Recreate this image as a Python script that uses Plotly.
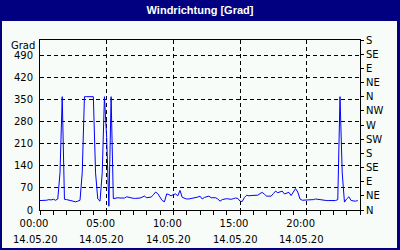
import plotly.graph_objects as go
import pandas as pd

# ---------------- data ----------------
start_time = "2020-05-14 00:00"
step = "10min"
direction_deg = [
    30, 30, 31, 31, 33, 32, 34, 31, 35,
    118, 360, 34, 33, 31, 30, 27, 26, 28, 31,
    118, 360, 360, 360, 360, 360, 118, 35, 28, 118, 360, 230, 12, 360,
    36, 38, 39, 38, 39, 38, 42, 40, 37, 37,
    37, 37, 38, 41, 44, 39, 39, 41, 48, 57,
    52, 42, 30, 26, 51, 49, 45, 49, 51, 45,
    62, 40, 37, 35, 35, 36, 37, 39, 41, 44,
    35, 40, 42, 44, 39, 38, 39, 35, 28, 33,
    35, 36, 35, 34, 36, 38, 37, 28, 27, 40,
    47, 45, 46, 47, 47, 47, 52, 56, 50, 44,
    44, 44, 52, 60, 55, 58, 60, 51, 54, 56,
    46, 58, 68, 57, 35, 31, 31, 33, 32, 33,
    33, 35, 34, 31, 30, 30, 30, 30, 30, 30,
    30, 33,
    360, 118, 25, 35, 42, 30, 28, 28, 30,
]
time_ticks = ["00:00", "05:00", "10:00", "15:00", "20:00"]
date_label = "14.05.20"
day = "2020-05-14"
next_day = "2020-05-15"
grad_ticks = [0, 70, 140, 210, 280, 350, 420, 490]
grad_max = 540
compass_labels = ["N", "NE", "E", "SE", "S", "SW", "W", "NW", "N", "NE", "E", "SE", "S"]
compass_step = 45

# ---------------- figure ----------------
times = pd.date_range(start_time, periods=len(direction_deg), freq=step)
tick_times = [pd.Timestamp(f"{day} {t}") for t in time_ticks]

NAVY = "#000080"
PANEL = "#F8FCF8"
FONT = "DejaVu Sans"

fig = go.Figure()
fig.add_trace(go.Scatter(
    x=times, y=direction_deg, mode="lines",
    line=dict(color="#0000FF", width=1),
    hoverinfo="skip", showlegend=False,
))
fig.add_trace(go.Scatter(
    x=times, y=direction_deg, mode="lines", yaxis="y2",
    line=dict(color="rgba(0,0,0,0)", width=0),
    hoverinfo="skip", showlegend=False,
))

W, H = 400, 250
ml, mr, mt, mb = 40, 40, 40, 40
pw, ph = W - ml - mr, H - mt - mb

def px2paper_x(px):
    return (px - ml) / pw

def px2paper_y(py):
    return (H - mb - py) / ph

fig.add_shape(
    type="rect", xref="paper", yref="paper", layer="below",
    x0=px2paper_x(2), x1=px2paper_x(397),
    y0=px2paper_y(248), y1=px2paper_y(21),
    fillcolor=PANEL, line=dict(width=0),
)

for t in tick_times:
    fig.add_annotation(
        x=t, y=px2paper_y(239), xref="x", yref="paper",
        text=date_label, showarrow=False, xshift=-5,
        font=dict(family=FONT, size=10, color="black"),
        yanchor="middle", xanchor="center",
    )

fig.add_annotation(
    x=0, y=px2paper_y(45), xref="paper", yref="paper",
    text="Grad", showarrow=False, xanchor="right", yanchor="middle",
    xshift=-3, font=dict(family=FONT, size=10, color="black"),
)

fig.update_layout(
    width=W, height=H,
    margin=dict(l=ml, r=mr, t=mt, b=mb),
    paper_bgcolor=NAVY, plot_bgcolor=PANEL,
    title=dict(
        text="<b>Windrichtung [Grad]</b>",
        x=0.5, xref="container", xanchor="center",
        y=1 - 10.5 / H, yref="container", yanchor="middle",
        font=dict(family="Liberation Sans", size=11, color="white"),
    ),
    xaxis=dict(
        range=[pd.Timestamp(day), pd.Timestamp(next_day)],
        tickvals=tick_times, ticktext=time_ticks,
        ticks="outside", ticklen=4, tickcolor="black",
        ticklabelshift=-6,
        showline=True, linecolor="black", linewidth=1, mirror=True,
        showgrid=True, gridcolor="black", gridwidth=1, griddash="4px,3px",
        zeroline=False,
        tickfont=dict(family=FONT, size=10, color="black"),
        minor=dict(dtick=3600000, tick0=pd.Timestamp(day), ticks="outside",
                   ticklen=4, tickcolor="black", showgrid=False),
    ),
    yaxis=dict(
        range=[0, grad_max], tickvals=grad_ticks,
        ticktext=[str(v) for v in grad_ticks],
        ticks="", ticklabelstandoff=4,
        showline=True, linecolor="black", linewidth=1,
        showgrid=True, gridcolor="black", gridwidth=1, griddash="4px,3px",
        zeroline=False,
        tickfont=dict(family=FONT, size=10, color="black"),
    ),
    yaxis2=dict(
        range=[0, grad_max], overlaying="y", side="right",
        tickvals=[i * compass_step for i in range(len(compass_labels))],
        ticktext=compass_labels,
        ticks="outside", ticklen=3, tickcolor="black",
        showline=True, linecolor="black", linewidth=1,
        showgrid=False, zeroline=False,
        tickfont=dict(family=FONT, size=10, color="black"),
    ),
)

fig.write_html("out.html")
